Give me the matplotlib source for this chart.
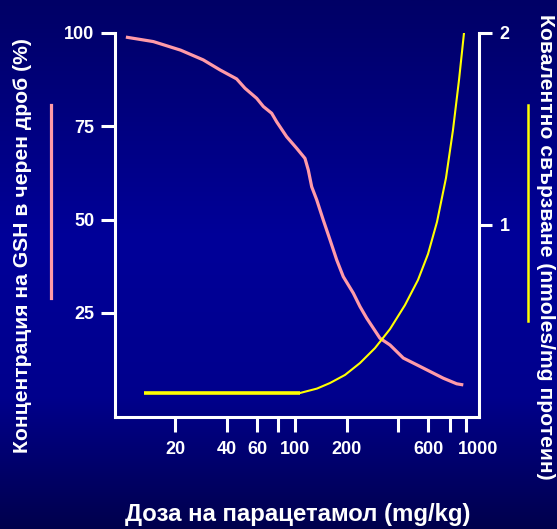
import numpy as np
import matplotlib
matplotlib.use("Agg")
import matplotlib.pyplot as plt
import matplotlib.transforms as mtransforms
from matplotlib.lines import Line2D
from matplotlib.colors import LinearSegmentedColormap

plt.rcParams['font.family'] = ['Liberation Sans', 'DejaVu Sans']
plt.rcParams['font.weight'] = 'bold'

# ---- data ----
gsh_dose = [10.3, 14.9, 21.5, 29.1, 36.5, 45.6, 51.0, 59.7, 65.3, 73.0, 78.1, 89.3,
            102.2, 114.2, 119.4, 125.0, 133.7, 146.0, 159.8, 174.9, 191.1, 218.6,
            239.1, 261.6, 312.8, 357.9, 427.9, 512.3, 612.4, 732.1, 876.7, 957.9]
gsh_pct = [98.9, 97.7, 95.4, 92.8, 90.1, 87.7, 85.2, 82.5, 80.3, 78.5, 76.2, 72.2,
           69.1, 66.4, 63.3, 58.8, 55.3, 49.9, 44.6, 39.2, 34.7, 30.3,
           26.7, 23.6, 18.2, 16.4, 12.9, 11.1, 9.3, 7.5, 6.0, 5.7]

cov_flat_dose = [13.1, 106.8]
cov_flat_val = [0.125, 0.125]
cov_dose = [106.8, 134.2, 159.8, 195.5, 239.1, 292.6, 357.9, 437.7, 521.4, 596.4,
            672.9, 759.3, 834.1, 904.3, 967.0]
cov_val = [0.125, 0.148, 0.177, 0.219, 0.281, 0.359, 0.458, 0.583, 0.714, 0.849,
           1.016, 1.245, 1.495, 1.755, 2.0]

x_ticks = [20, 40, 60, 80, 100, 200, 400, 600, 800, 1000]
x_tick_labels = ['20', '40', '60', '', '100', '200', '', '600', '', '1000']
left_ticks = [25, 50, 75, 100]
right_ticks = [1, 2]

W, H = 557, 529
fig = plt.figure(figsize=(W / 100, H / 100), dpi=100)

# background gradient
bg = fig.add_axes([0, 0, 1, 1], zorder=-10)
cmap = LinearSegmentedColormap.from_list('bgc', [
    (0.0, (0.0, 0.0, 0.40)),
    (0.45, (0.0, 0.0, 0.60)),
    (0.75, (0.0, 0.0, 0.55)),
    (1.0, (0.0, 0.0, 0.30))])
grad = np.linspace(0, 1, 256).reshape(-1, 1)
bg.imshow(grad, aspect='auto', cmap=cmap, extent=[0, 1, 0, 1], origin='upper')
bg.axis('off')

ax = fig.add_axes([115 / W, 1 - 417 / H, (479 - 115) / W, (417 - 33) / H])
ax.set_facecolor('none')
ax.set_xscale('log')
ax.set_xlim(8.9, 1183)
ax.set_ylim(-2.9, 100)

ax.plot(gsh_dose, gsh_pct, color='#ff9aa8', lw=2.3, zorder=3, solid_capstyle='butt')

ax2 = ax.twinx()
ax2.set_ylim(0, 2)
ax2.plot(cov_flat_dose, cov_flat_val, color='#ffff00', lw=2.6, solid_capstyle='butt')
ax2.plot(cov_dose, cov_val, color='#ffff00', lw=1.5)

for a in (ax, ax2):
    for s in a.spines.values():
        s.set_color('white')
        s.set_linewidth(2.2)
    a.spines['top'].set_visible(False)

ax.spines['right'].set_visible(False)
ax2.spines['left'].set_visible(False)
ax2.spines['bottom'].set_visible(False)

ax.set_xticks(x_ticks)
ax.set_xticklabels(x_tick_labels)
ax.xaxis.set_minor_locator(matplotlib.ticker.NullLocator())
ax.set_yticks(left_ticks)
ax2.set_yticks(right_ticks)

ax.tick_params(axis='x', colors='white', length=11, width=2.2, labelsize=13, pad=6)
ax.tick_params(axis='y', colors='white', length=10, width=2.2, labelsize=13, pad=5)
ax2.tick_params(axis='y', colors='white', length=9, width=2.2, labelsize=13, pad=6)
for lab in ax.get_xticklabels() + ax.get_yticklabels() + ax2.get_yticklabels():
    lab.set_fontweight('bold')

# shift the "1000" label right as in the reference
shift = mtransforms.ScaledTranslation(12 / 100, 0, fig.dpi_scale_trans)
for lab in ax.get_xticklabels():
    if lab.get_text() == '1000':
        lab.set_transform(lab.get_transform() + shift)

fig.text(23 / W, 1 - 246 / H, 'Концентрация на GSH в черен дроб (%)', rotation=90,
         color='white', fontsize=15.2, fontweight='bold', ha='center', va='center')
fig.text(545 / W, 1 - 246.5 / H, 'Ковалентно свързване (nmoles/mg протеин)', rotation=-90,
         color='white', fontsize=15.2, fontweight='bold', ha='center', va='center')
fig.text(298 / W, 1 - 514 / H, 'Доза на парацетамол (mg/kg)', color='white',
         fontsize=17.3, fontweight='bold', ha='center', va='center')

fig.add_artist(Line2D([51 / W, 51 / W], [1 - 105 / H, 1 - 298 / H], color='#ff9aa8', lw=2.3,
                      transform=fig.transFigure))
fig.add_artist(Line2D([528 / W, 528 / W], [1 - 105 / H, 1 - 321 / H], color='#ffff00', lw=1.8,
                      transform=fig.transFigure))

fig.savefig('out.png', dpi=100)
